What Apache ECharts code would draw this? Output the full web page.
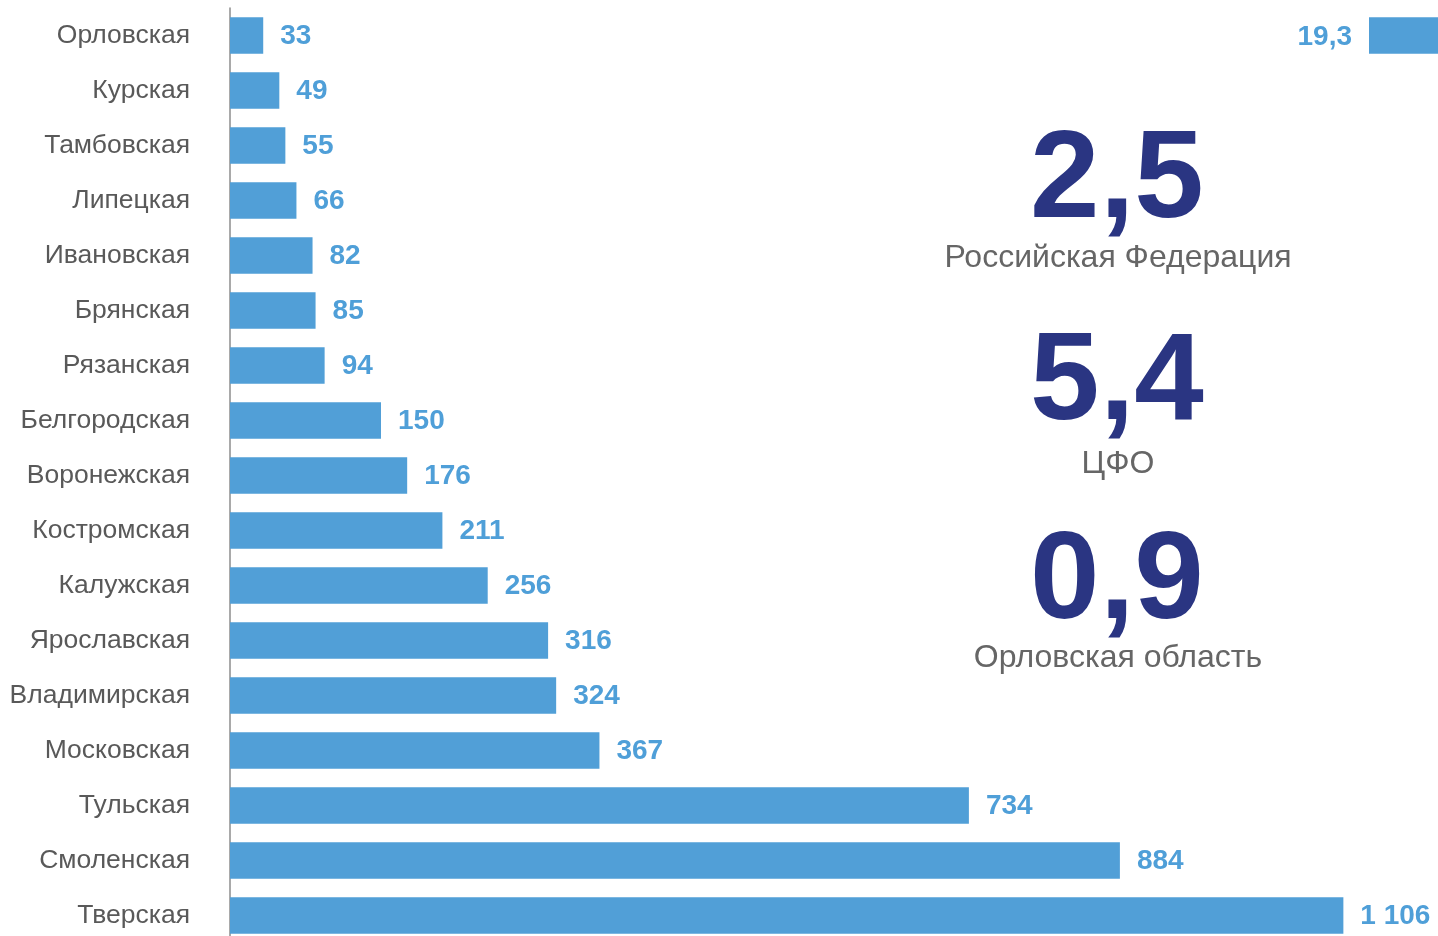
<!DOCTYPE html>
<html>
<head>
<meta charset="utf-8">
<title>Регионы ЦФО</title>
<script src="https://cdn.jsdelivr.net/npm/echarts@6/dist/echarts.min.js"></script>
<style>
	html, body { margin: 0; padding: 0; background: #fff; }
	#chart { width: 1438px; height: 936px; }
</style>
</head>
<body>
<div id="chart"></div>
<script>
var regions = ['Орловская', 'Курская', 'Тамбовская', 'Липецкая', 'Ивановская', 'Брянская', 'Рязанская',
	'Белгородская', 'Воронежская', 'Костромская', 'Калужская', 'Ярославская', 'Владимирская',
	'Московская', 'Тульская', 'Смоленская', 'Тверская'];
var values = [33, 49, 55, 66, 82, 85, 94, 150, 176, 211, 256, 316, 324, 367, 734, 884, 1106];

// the cut-off bar in the top right corner
var cornerValues = [19.3];

// big figures on the right
var bigNumbers = ['2,5', '5,4', '0,9'];
var bigCaptions = ['Российская Федерация', 'ЦФО', 'Орловская область'];

var BAR = '#519fd7';
var LABEL = '#4f9fd8';
var NAVY = '#2a3582';
var GREY = '#595959';
var FONT = '"Liberation Sans", Arial, sans-serif';

function fmt(v) {
	var s = String(v).replace('.', ',');
	return s.replace(/\B(?=(\d{3})+(?!\d))/g, ' ');
}

var chart = echarts.init(document.getElementById('chart'));

var numberY = [183, 385, 584];
var captionY = [258, 464, 658];
var graphics = [];
for (var i = 0; i < bigNumbers.length; i++) {
	graphics.push({
		type: 'text', x: 1117, y: numberY[i],
		style: { text: bigNumbers[i], fill: NAVY, font: 'bold 125px ' + FONT,
			textAlign: 'center', textVerticalAlign: 'middle' }
	});
	graphics.push({
		type: 'text', x: 1118, y: captionY[i],
		style: { text: bigCaptions[i], fill: '#666666', font: '32px ' + FONT,
			textAlign: 'center', textVerticalAlign: 'middle' }
	});
}

var option = {
	animation: false,
	grid: [
		// bottom row runs past the window edge
		{ left: 230, right: 0, top: 8, height: 935, outerBoundsMode: 'none' },
		{ left: 1369, right: 0, top: 8, height: 935, outerBoundsMode: 'none' }
	],
	xAxis: [
		{ gridIndex: 0, type: 'value', min: 0, max: 1200, show: false },
		{ gridIndex: 1, type: 'value', min: 0, max: 19.3, show: false }
	],
	yAxis: [
		{
			gridIndex: 0, type: 'category', data: regions, inverse: true,
			axisLine: { lineStyle: { color: '#8c8c8c', width: 1.5 } },
			axisTick: { show: false },
			axisLabel: { color: GREY, fontSize: 26.5, margin: 40, fontFamily: FONT }
		},
		{ gridIndex: 1, type: 'category', data: regions, inverse: true, show: false }
	],
	series: [
		{
			type: 'bar', xAxisIndex: 0, yAxisIndex: 0, data: values,
			barCategoryGap: '34%',
			itemStyle: { color: BAR },
			label: {
				show: true, position: 'right', distance: 17, color: LABEL,
				fontSize: 28, fontWeight: 'bold', fontFamily: FONT, offset: [0, 1],
				formatter: function (p) { return fmt(p.value); }
			}
		},
		{
			type: 'bar', xAxisIndex: 1, yAxisIndex: 1, data: cornerValues,
			barCategoryGap: '34%',
			itemStyle: { color: BAR },
			label: {
				show: true, position: 'left', distance: 17, color: LABEL,
				fontSize: 28, fontWeight: 'bold', fontFamily: FONT, offset: [0, 2],
				formatter: function (p) { return fmt(p.value); }
			}
		}
	],
	graphic: graphics
};

chart.setOption(option);
</script>
</body>
</html>
